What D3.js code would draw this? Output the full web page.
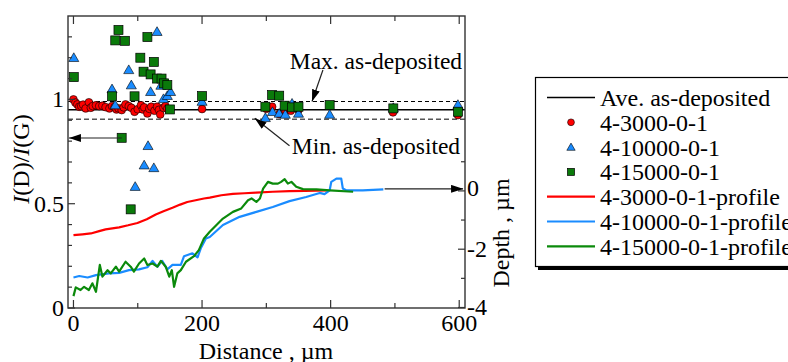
<!DOCTYPE html>
<html><head><meta charset="utf-8">
<script src="https://cdn.jsdelivr.net/npm/d3@7"></script>
<style>body{margin:0;background:#fff}svg{display:block}text{font-family:"Liberation Serif","Times New Roman",serif;fill:#000}</style>
</head><body>
<svg id="c" width="788" height="362" font-family="Liberation Serif, Times New Roman, serif"></svg>
<script>
// ---- data ----
const xMajorTicks = [0, 200, 400, 600];
const xMinorTicks = [100, 300, 500];
const yLeftMajor = [0, 0.5, 1];
const yLeftLabels = ["0", "0.5", "1"];
const yLeftMinor = [0.1, 0.2, 0.3, 0.4, 0.6, 0.7, 0.8, 0.9, 1.1, 1.2, 1.3];
const yRightMajor = [0, -2, -4];
const yRightMinor = [1, -1, -3];

const aveLevel = 0.95, maxLevel = 0.99, minLevel = 0.905;

const s3000 = [[0,1.0],[3,0.985],[6,0.976],[9,0.965],[12,0.968],[15,0.975],[19,0.957],[24,0.986],[27,0.96],[30,0.968],[35,0.972],[40,0.968],[45,0.97],[50,0.963],[56,0.957],[60,0.968],[64,0.963],[67,0.952],[70,0.957],[75,0.949],[78,0.962],[81,0.976],[86,0.968],[90,0.96],[95,0.941],[100,0.953],[105,0.972],[108,0.952],[110,0.962],[115,0.933],[118,0.955],[121,0.965],[126,0.946],[130,0.965],[133,0.95],[135,0.928],[140,0.96],[143,0.968],[146,0.955],[200,0.954],[300,0.955],[309,0.965],[320,0.93],[330,0.945],[338,0.946],[350,0.95],[497,0.938],[598,0.925]];
const s10000 = [[0.5,1.2],[60,1.05],[65,0.973],[86,1.142],[90,1.069],[96,0.582],[110,0.685],[116,0.778],[120,1.037],[125,0.672],[130,1.325],[136,1.067],[140,1.003],[146,1.018],[151,1.037],[200,0.99],[298.5,0.912],[309.5,0.941],[320,0.933],[329.5,0.928],[340,0.981],[350,0.933],[398.5,0.928],[497.5,0.96],[598,0.975]];
const s15000 = [[0.5,1.107],[60,1.015],[65,1.283],[70,1.333],[75,0.816],[80,1.281],[89,0.473],[95,1.015],[104,1.2],[109,1.133],[115,1.299],[120,1.12],[125,1.18],[130,1.10],[137,1.10],[141,1.077],[146,1.069],[150,0.952],[200,1.016],[298.5,0.965],[309,1.021],[320,1.018],[328.5,0.97],[340,0.962],[350,0.965],[398.5,0.973],[497.5,0.957],[598,0.941]];

const p3000 = [[0,-1.52],[14,-1.49],[27,-1.46],[40,-1.38],[50,-1.32],[71,-1.25],[85,-1.18],[99.5,-1.10],[114,-0.97],[128,-0.81],[140,-0.70],[154,-0.58],[166,-0.47],[177,-0.38],[190,-0.32],[203,-0.26],[212,-0.23],[230,-0.15],[248,-0.10],[266,-0.08],[284,-0.06],[310,-0.03],[336,-0.01],[360,0.0],[395,0.02]];
const p10000 = [[0,-2.97],[9,-2.92],[22,-2.97],[35,-2.89],[55,-2.83],[71,-2.81],[86.5,-2.72],[102,-2.69],[115,-2.62],[123,-2.40],[130.5,-2.60],[138,-2.40],[146,-2.69],[154,-2.54],[167,-2.54],[172,-2.24],[185,-2.14],[193,-2.28],[198,-1.97],[206,-1.63],[212,-1.58],[232.5,-1.17],[258.5,-0.89],[284.5,-0.72],[310,-0.55],[336,-0.35],[362,-0.21],[383,-0.07],[390.5,-0.11],[398.5,0.02],[401,0.31],[409,0.42],[416.5,0.42],[419,0.08],[424,0.02],[450,0.02],[482,0.05]];
const p15000 = [[0,-3.61],[3.6,-3.31],[11,-3.40],[16.5,-3.29],[24,-3.40],[29.5,-3.17],[35,-3.46],[41,-2.54],[45,-2.94],[53,-2.72],[58,-2.83],[66,-2.60],[71,-2.77],[81,-2.43],[89,-2.60],[94,-2.77],[102,-2.49],[110,-2.32],[115,-2.54],[123,-2.49],[130.5,-2.60],[136,-2.40],[143.5,-2.60],[149,-2.94],[153,-2.72],[156.5,-3.29],[161.5,-2.83],[167,-2.72],[175,-2.43],[187.5,-2.24],[195,-2.03],[203,-1.63],[212,-1.40],[232.5,-0.95],[248,-0.72],[261,-0.60],[271.5,-0.32],[277,-0.26],[284.5,-0.38],[290,-0.26],[295,0.08],[302.5,0.31],[310,0.25],[318,0.25],[323,0.31],[328.5,0.40],[333.5,0.25],[339,0.31],[346.5,0.14],[357,0.06],[378,0.05],[398.5,0.02],[435,-0.03]];

const legendLabels = ["Ave. as-deposited","4-3000-0-1","4-10000-0-1","4-15000-0-1","4-3000-0-1-profile","4-10000-0-1-profile","4-15000-0-1-profile"];

// ---- scales ----
const L = 68, R = 465, T = 16, B = 308;
const x = d3.scaleLinear().domain([-8.5, 609]).range([L, R]);
const yL = d3.scaleLinear().domain([0, 1.4]).range([B, T]);
const yR = d3.scaleLinear().domain([-4, 6]).range([B - 0.5, T]);

const RED = "#ff0000", BLUE = "#1a8cff", GREEN = "#0b8a0b", SQFILL = "#0a7a0a";
const svg = d3.select("#c");

// reference lines
const g = svg.append("g");
g.append("line").attr("x1", L).attr("x2", R).attr("y1", yL(maxLevel)).attr("y2", yL(maxLevel))
  .attr("stroke", "#000").attr("stroke-width", 1.2).attr("stroke-dasharray", "4,3");
g.append("line").attr("x1", L).attr("x2", R).attr("y1", yL(minLevel)).attr("y2", yL(minLevel))
  .attr("stroke", "#555").attr("stroke-width", 1.5).attr("stroke-dasharray", "5,3");
g.append("line").attr("x1", L).attr("x2", R).attr("y1", yL(aveLevel)).attr("y2", yL(aveLevel))
  .attr("stroke", "#000").attr("stroke-width", 1.5);

// profiles
const line = d3.line().x(d => x(d[0])).y(d => yR(d[1]));
[[p3000, RED], [p10000, BLUE], [p15000, GREEN]].forEach(([d, c]) => {
  svg.append("path").datum(d).attr("d", line).attr("fill", "none").attr("stroke", c).attr("stroke-width", 2.2).attr("stroke-linejoin", "round");
});

// scatter
svg.append("g").selectAll("circle").data(s3000).join("circle")
  .attr("cx", d => x(d[0])).attr("cy", d => yL(d[1])).attr("r", 3.9)
  .attr("fill", RED).attr("stroke", "#000").attr("stroke-width", 0.6);
const tri = d3.symbol().type(d3.symbolTriangle).size(44);
svg.append("g").selectAll("path").data(s10000).join("path")
  .attr("d", tri).attr("transform", d => `translate(${x(d[0])},${yL(d[1]) + 0.9})`)
  .attr("fill", BLUE).attr("stroke", "#000").attr("stroke-width", 0.6);
svg.append("g").selectAll("rect").data(s15000).join("rect")
  .attr("x", d => x(d[0]) - 4.5).attr("y", d => yL(d[1]) - 4.5).attr("width", 9).attr("height", 9)
  .attr("fill", SQFILL).attr("stroke", "#000").attr("stroke-width", 0.7);

// frame
svg.append("rect").attr("x", L).attr("y", T).attr("width", R - L).attr("height", B - T)
  .attr("fill", "none").attr("stroke", "#333").attr("stroke-width", 1.4);

// ticks
const tk = svg.append("g").attr("stroke", "#333").attr("stroke-width", 1.2);
xMajorTicks.forEach(v => {
  tk.append("line").attr("x1", x(v)).attr("x2", x(v)).attr("y1", B).attr("y2", B - 8);
  tk.append("line").attr("x1", x(v)).attr("x2", x(v)).attr("y1", T).attr("y2", T + 8);
});
xMinorTicks.forEach(v => {
  tk.append("line").attr("x1", x(v)).attr("x2", x(v)).attr("y1", B).attr("y2", B - 5);
  tk.append("line").attr("x1", x(v)).attr("x2", x(v)).attr("y1", T).attr("y2", T + 5);
});
yLeftMajor.forEach(v => tk.append("line").attr("x1", L).attr("x2", L + 7).attr("y1", yL(v)).attr("y2", yL(v)));
yLeftMinor.forEach(v => tk.append("line").attr("x1", L).attr("x2", L + 4).attr("y1", yL(v)).attr("y2", yL(v)));
yRightMajor.forEach(v => tk.append("line").attr("x1", R).attr("x2", R - 7).attr("y1", yR(v)).attr("y2", yR(v)));
yRightMinor.forEach(v => tk.append("line").attr("x1", R).attr("x2", R - 4).attr("y1", yR(v)).attr("y2", yR(v)));

// tick labels
const FS = 24;
xMajorTicks.forEach(v => svg.append("text").attr("x", x(v)).attr("y", 331).attr("text-anchor", "middle").attr("font-size", FS).text(v));
yLeftMajor.forEach((v, i) => svg.append("text").attr("x", 64).attr("y", yL(v)).attr("dy", "0.33em").attr("text-anchor", "end").attr("font-size", FS).text(yLeftLabels[i]));
yRightMajor.forEach(v => svg.append("text").attr("x", 467).attr("y", yR(v) - (v === 0 ? 3 : 0)).attr("dy", "0.33em").attr("text-anchor", "start").attr("font-size", FS).text(v < 0 ? "-" + Math.abs(v) : v));

// axis titles
svg.append("text").attr("x", 266).attr("y", 359).attr("text-anchor", "middle").attr("font-size", FS).text("Distance , µm");
const yt = svg.append("text").attr("transform", "translate(29,159) rotate(-90)").attr("text-anchor", "middle").attr("font-size", FS);
yt.append("tspan").attr("font-style", "italic").text("I");
yt.append("tspan").text("(D)/");
yt.append("tspan").attr("font-style", "italic").text("I");
yt.append("tspan").text("(G)");
svg.append("text").attr("transform", "translate(509,233) rotate(-90)").attr("text-anchor", "middle").attr("font-size", FS).text("Depth , µm");

// arrows
svg.append("defs").append("marker").attr("id", "ah").attr("viewBox", "0 0 12 8").attr("refX", 12).attr("refY", 4)
  .attr("markerWidth", 12).attr("markerHeight", 8).attr("markerUnits", "userSpaceOnUse").attr("orient", "auto")
  .append("path").attr("d", "M0,0 L12,4 L0,8 Z").attr("fill", "#000");
const arrow = (x1, y1, x2, y2) => svg.append("line").attr("x1", x1).attr("y1", y1).attr("x2", x2).attr("y2", y2)
  .attr("stroke", "#222").attr("stroke-width", 1.2).attr("marker-end", "url(#ah)");
arrow(x(388), yL(1.141), x(371), yL(maxLevel));
arrow(x(336), yL(0.778), x(282), yL(minLevel) - 1);
arrow(x(75), yL(0.815), x(-7), yL(0.815));
arrow(x(484), yR(0.07), x(606), yR(0.07));

svg.append("text").attr("x", x(336.5)).attr("y", yL(1.146)).attr("font-size", 23.5).text("Max. as-deposited");
svg.append("text").attr("x", x(339.5)).attr("y", yL(0.74)).attr("font-size", 23.5).text("Min. as-deposited");

// legend
const lg = svg.append("g");
lg.append("rect").attr("x", 538).attr("y", 80).attr("width", 300).attr("height", 190).attr("fill", "#000");
lg.append("rect").attr("x", 535.5).attr("y", 77.5).attr("width", 300).attr("height", 189).attr("fill", "#fff").attr("stroke", "#000").attr("stroke-width", 1.2);
const rowY = i => 97.5 + i * 24.8;
legendLabels.forEach((t, i) => {
  const yy = rowY(i);
  if (i === 0 || i >= 4) {
    const c = [ "#000", null, null, null, RED, BLUE, GREEN ][i];
    lg.append("line").attr("x1", 547).attr("x2", 595).attr("y1", yy).attr("y2", yy).attr("stroke", c).attr("stroke-width", i === 0 ? 1.5 : 2.2);
  } else if (i === 1) {
    lg.append("circle").attr("cx", 571).attr("cy", yy).attr("r", 3.4).attr("fill", RED).attr("stroke", "#000").attr("stroke-width", 0.6);
  } else if (i === 2) {
    lg.append("path").attr("d", d3.symbol().type(d3.symbolTriangle).size(30)).attr("transform", `translate(571,${yy + 0.8})`).attr("fill", BLUE).attr("stroke", "#000").attr("stroke-width", 0.6);
  } else {
    lg.append("rect").attr("x", 567.5).attr("y", yy - 3.5).attr("width", 7).attr("height", 7).attr("fill", SQFILL).attr("stroke", "#000").attr("stroke-width", 0.7);
  }
  lg.append("text").attr("x", 600).attr("y", yy + 8.5).attr("font-size", FS).text(t);
});
</script>
</body></html>
